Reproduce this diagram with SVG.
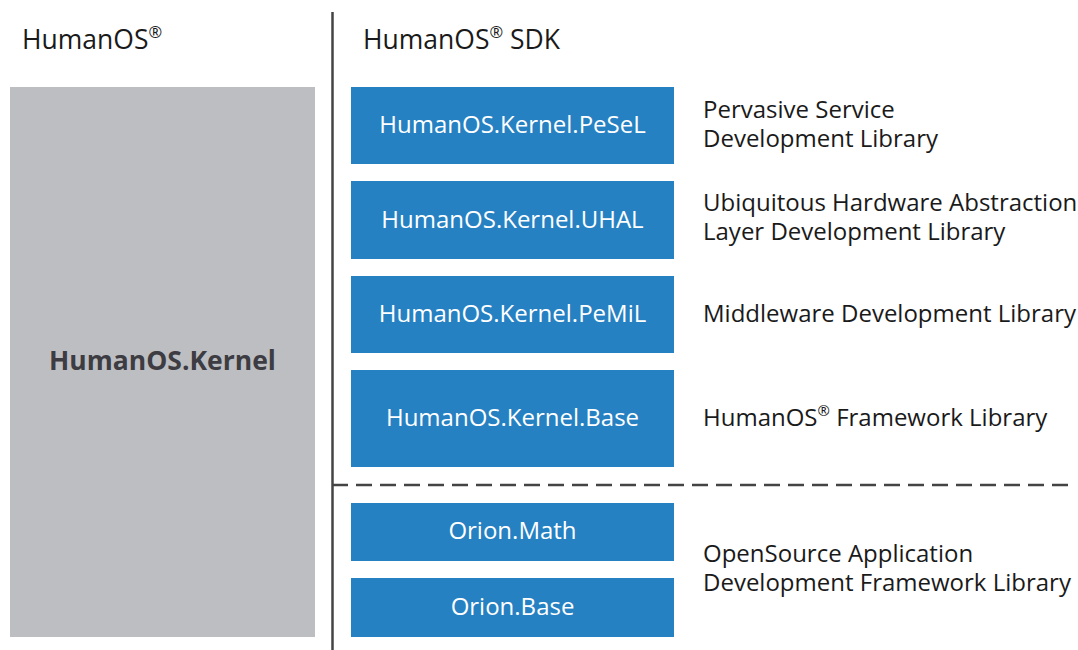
<svg xmlns="http://www.w3.org/2000/svg" width="1078" height="650" viewBox="0 0 1078 650">
<style>
text{font-family:"Open Sans","Noto Sans","DejaVu Sans",sans-serif;}
.hd{font-size:26.5px;fill:#1a1a1a;}
.lbl{font-size:24px;fill:#1a1a1a;}
.bt{font-size:24px;fill:#ffffff;text-anchor:middle;}
.blue{fill:#2681c3;}
.sup{font-size:0.62em;}
</style>
<rect width="1078" height="650" fill="#ffffff"/>
<text class="hd" x="22" y="49">HumanOS<tspan class="sup" dy="-11">®</tspan></text>
<text class="hd" x="363" y="49">HumanOS<tspan class="sup" dy="-11">®</tspan><tspan dy="11"> SDK</tspan></text>
<g id="kernel">
<rect x="10" y="87" width="305" height="550" fill="#bdbec1"/>
<text x="162.5" y="370" font-size="26.5" font-weight="bold" fill="#3c3c42" text-anchor="middle">HumanOS.Kernel</text>
</g>
<g id="connectors">
<line x1="332.5" y1="12" x2="332.5" y2="650" stroke="#444" stroke-width="2.5"/>
<line x1="332" y1="485" x2="1072" y2="485" stroke="#444" stroke-width="2.5" stroke-dasharray="16 8"/>
</g>
<g id="pesel">
<rect class="blue" x="351" y="87" width="323" height="77"/>
<text class="bt" x="512.5" y="133">HumanOS.Kernel.PeSeL</text>
</g>
<g id="uhal">
<rect class="blue" x="351" y="181" width="323" height="78"/>
<text class="bt" x="512.5" y="228">HumanOS.Kernel.UHAL</text>
</g>
<g id="pemil">
<rect class="blue" x="351" y="276" width="323" height="77"/>
<text class="bt" x="512.5" y="322">HumanOS.Kernel.PeMiL</text>
</g>
<g id="base">
<rect class="blue" x="351" y="370" width="323" height="97"/>
<text class="bt" x="512.5" y="426">HumanOS.Kernel.Base</text>
</g>
<g id="orion-math">
<rect class="blue" x="351" y="503" width="323" height="58"/>
<text class="bt" x="512.5" y="539">Orion.Math</text>
</g>
<g id="orion-base">
<rect class="blue" x="351" y="578" width="323" height="59"/>
<text class="bt" x="512.5" y="615">Orion.Base</text>
</g>
<g id="labels">
<text class="lbl" x="703" y="118">Pervasive Service<tspan x="703" dy="29">Development Library</tspan></text>
<text class="lbl" x="703" y="211">Ubiquitous Hardware Abstraction<tspan x="703" dy="29">Layer Development Library</tspan></text>
<text class="lbl" x="703" y="322">Middleware Development Library</text>
<text class="lbl" x="703" y="426">HumanOS<tspan class="sup" dy="-10">®</tspan><tspan dy="10"> Framework Library</tspan></text>
<text class="lbl" x="703" y="562">OpenSource Application<tspan x="703" dy="29">Development Framework Library</tspan></text>
</g>
</svg>
